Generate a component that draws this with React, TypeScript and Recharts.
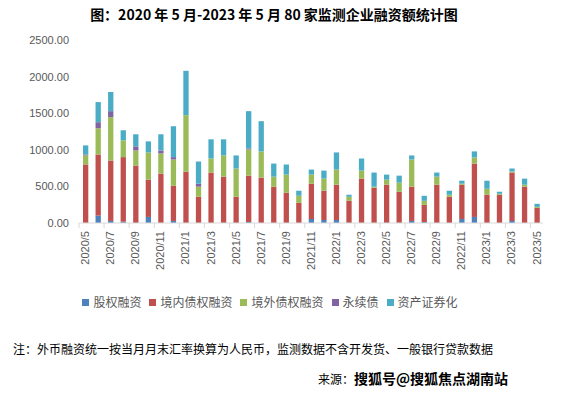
import React from "react";
import { BarChart, Bar, XAxis, YAxis } from "recharts";

const months = [
  "2020/5","2020/6","2020/7","2020/8","2020/9","2020/10","2020/11","2020/12",
  "2021/1","2021/2","2021/3","2021/4","2021/5","2021/6","2021/7","2021/8","2021/9","2021/10","2021/11","2021/12",
  "2022/1","2022/2","2022/3","2022/4","2022/5","2022/6","2022/7","2022/8","2022/9","2022/10","2022/11","2022/12",
  "2023/1","2023/2","2023/3","2023/4","2023/5",
];
const equity = [0,101,28,18,0,83,0,28, 0,0,0,0,0,14,0,0,0,0,55,41, 41,0,0,0,0,0,28,14,0,0,55,83, 0,0,28,0,0];
const domestic = [800,835,826,882,785,509,675,481, 702,358,689,633,358,633,620,496,413,275,482,400, 482,303,606,482,523,427,468,234,523,358,468,729, 386,386,661,496,207];
const overseas = [123,358,592,229,206,372,275,359, 771,138,192,290,386,358,358,137,248,97,124,165, 207,55,110,14,69,124,372,55,110,28,14,83, 82,13,13,27,13];
const perpetual = [13,83,82,0,56,0,41,32, 0,41,0,0,0,14,0,0,0,0,0,0, 0,0,0,0,0,0,0,0,0,0,0,0, 0,0,0,0,0];
const abs = [124,275,262,138,165,151,221,422, 606,303,262,220,179,509,413,179,138,69,69,110, 234,28,165,193,69,96,55,69,56,55,41,83, 110,28,42,83,42];
const yTicks = [0, 500, 1000, 1500, 2000, 2500];

const seriesNames = ["股权融资", "境内债权融资", "境外债权融资", "永续债", "资产证券化"];
const colors = ["#4f81bd", "#c0504d", "#9bbb59", "#8064a2", "#4bacc6"];

const data = months.map((m, i) => ({
  month: m,
  equity: equity[i],
  domestic: domestic[i],
  overseas: overseas[i],
  perpetual: perpetual[i],
  abs: abs[i],
}));
const keys = ["equity", "domestic", "overseas", "perpetual", "abs"];

const PLOT_LEFT = 79;
const PLOT_RIGHT = 543;
const HALF = (PLOT_RIGHT - PLOT_LEFT) / months.length / 2;

const XTick = (props: any) => {
  const { x, y, payload } = props;
  return (
    <g>
      <line x1={x - HALF} x2={x - HALF} y1={y} y2={y + 5} stroke="#d9d9d9" strokeWidth={1} />
      <text
        x={x}
        y={y + 8}
        transform={`rotate(-90, ${x}, ${y + 8})`}
        textAnchor="end"
        dy="0.35em"
        fontSize={11}
        fill="#595959"
        fontFamily="'Liberation Sans', 'DejaVu Sans', sans-serif"
      >
        {payload.value}
      </text>
    </g>
  );
};

export default function App() {
  const font = "'Noto Sans CJK SC', sans-serif";
  return (
    <div style={{ position: "absolute", left: 0, top: 0, width: 572, height: 393, background: "#fff" }}>
      <div
        style={{
          position: "absolute", left: 0, top: 4, width: 548, textAlign: "center",
          fontFamily: font, fontWeight: 700, fontSize: 14, color: "#000", lineHeight: "20px",
        }}
      >
        图：2020 年 5 月-2023 年 5 月 80 家监测企业融资额统计图
      </div>
      <BarChart
        width={572}
        height={393}
        data={data}
        margin={{ top: 40, right: 572 - PLOT_RIGHT, left: 0, bottom: 110 }}
        barSize={5.3}
      >
        <XAxis
          dataKey="month"
          interval={1}
          height={60}
          tickSize={0}
          tickMargin={0}
          tick={<XTick />}
          axisLine={{ stroke: "#d9d9d9" }}
          tickLine={false}
        />
        <YAxis
          width={PLOT_LEFT}
          domain={[0, 2500]}
          ticks={yTicks}
          tickFormatter={(v: number) => v.toFixed(2)}
          axisLine={false}
          tickLine={false}
          tickMargin={4}
          tick={{ fontSize: 11, fill: "#595959", fontFamily: "'Liberation Sans', sans-serif" }}
        />
        {keys.map((k, i) => (
          <Bar key={k} dataKey={k} stackId="a" fill={colors[i]} isAnimationActive={false} />
        ))}
      </BarChart>
      <div
        style={{
          position: "absolute", left: 0, top: 294, width: 572, display: "flex", justifyContent: "center",
          fontFamily: font, fontSize: 12, color: "#595959", lineHeight: "16px",
        }}
      >
        <div style={{ display: "flex", gap: 8, marginLeft: -32 }}>
          {seriesNames.map((n, i) => (
            <div key={n} style={{ display: "flex", alignItems: "center", gap: 4 }}>
              <span style={{ width: 7, height: 7, background: colors[i], display: "inline-block" }} />
              <span>{n}</span>
            </div>
          ))}
        </div>
      </div>
      <div
        style={{
          position: "absolute", left: 13, top: 340, fontFamily: font, fontSize: 12, color: "#000",
          lineHeight: "18px", whiteSpace: "nowrap",
        }}
      >
        注：外币融资统一按当月月末汇率换算为人民币，监测数据不含开发货、一般银行贷款数据
      </div>
      <div
        style={{
          position: "absolute", left: 318, top: 368, fontFamily: font, fontSize: 12, color: "#000",
          lineHeight: "20px", whiteSpace: "nowrap",
        }}
      >
        来源：<span style={{ fontWeight: 700, fontSize: 14 }}>搜狐号@搜狐焦点湖南站</span>
      </div>
    </div>
  );
}
